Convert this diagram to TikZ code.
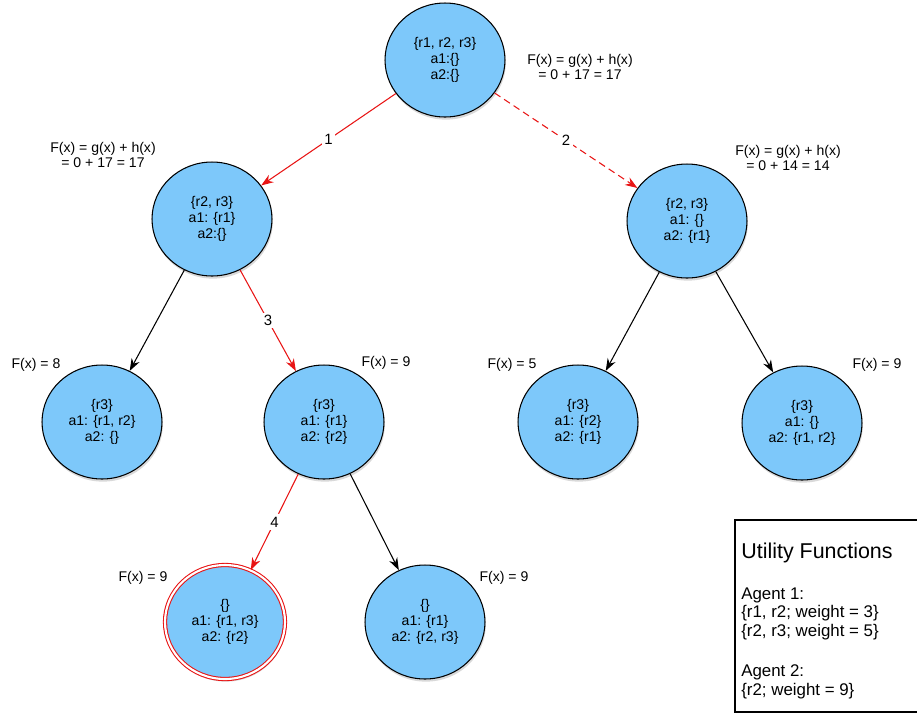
\documentclass[tikz,border=0pt]{standalone}
\usepackage{fontspec}
\setmainfont{Liberation Sans}
\usetikzlibrary{shapes.geometric,arrows.meta,shadows}
\definecolor{nodeblue}{RGB}{125,200,250}
\definecolor{pathred}{RGB}{232,20,20}

\begin{document}
\begin{tikzpicture}[x=0.02cm, y=-0.02cm,
    state/.style={ellipse, draw, line width=0.6pt, fill=nodeblue, minimum width=2.4cm, minimum height=2.28cm,
        inner sep=0pt, align=center, font=\fontsize{8}{9}\selectfont,
        drop shadow={opacity=0.3, shadow xshift=0.5pt, shadow yshift=-1.5pt}},
    goal/.style={state, draw=pathred, double=white, double distance=1.2pt},
    fval/.style={align=center, inner sep=0pt, font=\fontsize{8}{8.6}\selectfont},
    edge/.style={-{Stealth[length=7pt,width=5pt]}, line width=0.6pt},
    best/.style={edge, color=pathred},
    num/.style={fill=white, text=black, inner sep=1.5pt, font=\fontsize{8.5}{9}\selectfont}]

    \useasboundingbox (0,0) rectangle (917,725);

    % search tree
    \node[state] (root) at (445,60) {\{r1, r2, r3\}\\a1:\{\}\\a2:\{\}};
    \node[state] (sl) at (212,219) {\{r2, r3\}\\a1: \{r1\}\\a2:\{\}};
    \node[state] (sr) at (687,221) {\{r2, r3\}\\a1: \{\}\\a2: \{r1\}};
    \node[state] (sll) at (102,422) {\{r3\}\\a1: \{r1, r2\}\\a2: \{\}};
    \node[state] (slr) at (324,422) {\{r3\}\\a1: \{r1\}\\a2: \{r2\}};
    \node[state] (srl) at (578,422) {\{r3\}\\a1: \{r2\}\\a2: \{r1\}};
    \node[state] (srr) at (802,423) {\{r3\}\\a1: \{\}\\a2: \{r1, r2\}};
    \node[goal] (slrl) at (225,622) {\{\}\\a1: \{r1, r3\}\\a2: \{r2\}};
    \node[state] (slrr) at (425,622) {\{\}\\a1: \{r1\}\\a2: \{r2, r3\}};

    % cost labels
    \node[fval] (froot) at (580,67) {F(x) = g(x) + h(x)\\= 0 + 17 = 17};
    \node[fval] (fsl) at (103,155) {F(x) = g(x) + h(x)\\= 0 + 17 = 17};
    \node[fval] (fsr) at (788,158) {F(x) = g(x) + h(x)\\= 0 + 14 = 14};
    \node[fval] (fsll) at (36,365) {F(x) = 8};
    \node[fval] (fslr) at (386,363) {F(x) = 9};
    \node[fval] (fsrl) at (512,365) {F(x) = 5};
    \node[fval] (fsrr) at (877,365) {F(x) = 9};
    \node[fval] (fslrl) at (143,578) {F(x) = 9};
    \node[fval] (fslrr) at (504,578) {F(x) = 9};

    % expansions
    \draw[best] (root) -- node[num] {1} (sl);
    \draw[best, dash pattern=on 4pt off 2.5pt] (root) -- node[num] {2} (sr);
    \draw[edge] (sl) -- (sll);
    \draw[best] (sl) -- node[num] {3} (slr);
    \draw[edge] (sr) -- (srl);
    \draw[edge] (sr) -- (srr);
    \draw[best] (slr) -- node[num] {4} (slrl);
    \draw[edge] (slr) -- (slrr);

    % utility functions
    \draw[line width=0.6pt, fill=white] (918,520) -- (735,520) -- (735,712) -- (918,712);
    \node[anchor=west, inner sep=0pt, font=\fontsize{12.2}{14}\selectfont] (utitle) at (741,553) {Utility Functions};
    \node[anchor=west, align=left, inner sep=0pt, font=\fontsize{9.6}{10.8}\selectfont] (ubody) at (741,643)
        {Agent 1:\\\{r1, r2; weight = 3\}\\\{r2, r3; weight = 5\}\\[11.5pt]Agent 2:\\\{r2; weight = 9\}};

\end{tikzpicture}
\end{document}
